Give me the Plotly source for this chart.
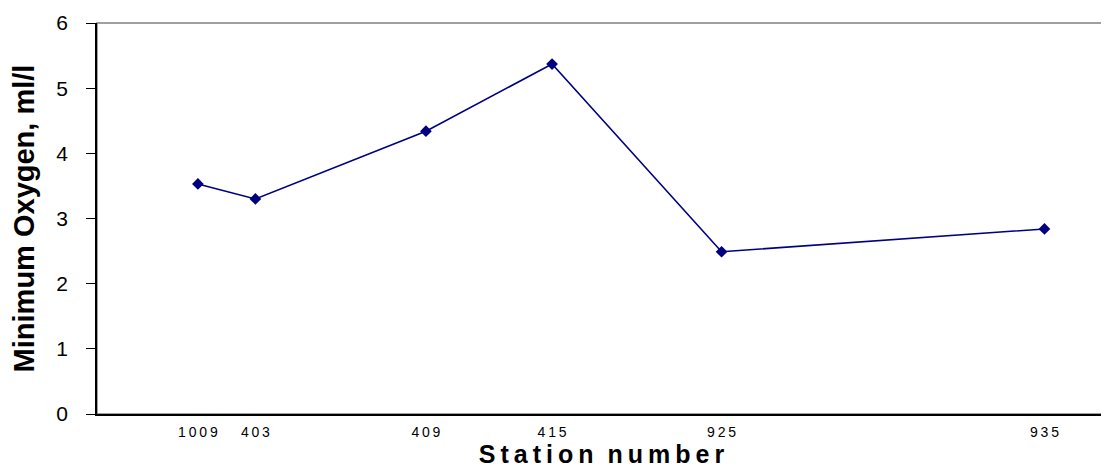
import plotly.graph_objects as go

# Data
stations = ["1009", "403", "409", "415", "925", "935"]
station_position = [10.0, 15.7, 32.6, 45.1, 61.9, 93.9]   # relative along-transect position
min_oxygen = [3.53, 3.30, 4.34, 5.37, 2.49, 2.84]
y_ticks = [0, 1, 2, 3, 4, 5, 6]

THIN = "\u2009"


def spaced(s, sp):
    return sp.join(list(s))


FONT = "Liberation Sans, Arial, sans-serif"

fig = go.Figure()
fig.add_trace(go.Scatter(
    x=station_position, y=min_oxygen,
    mode="lines+markers",
    line=dict(color="#000080", width=1.6),
    marker=dict(symbol="diamond", size=9, color="#000080"),
    showlegend=False,
))

# grey plot-area border (top/right)
fig.add_shape(type="rect", xref="paper", yref="paper", x0=0, y0=0, x1=1, y1=1,
              line=dict(color="#808080", width=1.5), layer="below")

# page body has an 8px margin; offset the figure so the plot area lands in place
fig.update_layout(
    width=1101, height=465,
    margin=dict(l=89, r=3, t=13, b=59),
    paper_bgcolor="white", plot_bgcolor="white",
    font=dict(family=FONT, color="black"),
)
fig.update_xaxes(
    range=[0, 100],
    tickmode="array", tickvals=station_position,
    ticktext=[spaced(s, THIN) for s in stations],
    tickfont=dict(size=14), ticks="", ticklabelstandoff=4,
    showgrid=False, zeroline=False,
    showline=True, linecolor="black", linewidth=1.5,
    title=dict(text="<b>" + spaced("Station", THIN) + "  " + spaced("number", THIN) + "</b>",
               font=dict(size=25), standoff=3),
)
fig.update_yaxes(
    range=[0, 6],
    tickmode="array", tickvals=y_ticks, ticktext=[str(v) for v in y_ticks],
    tickfont=dict(size=21), ticks="outside", ticklen=9, tickcolor="black", tickwidth=1,
    ticklabelstandoff=14,
    showgrid=False, zeroline=False,
    showline=True, linecolor="black", linewidth=1.5,
    title=dict(text="<b>Minimum Oxygen, ml/l</b>", font=dict(size=29), standoff=20),
)

fig.write_html("out.html")
